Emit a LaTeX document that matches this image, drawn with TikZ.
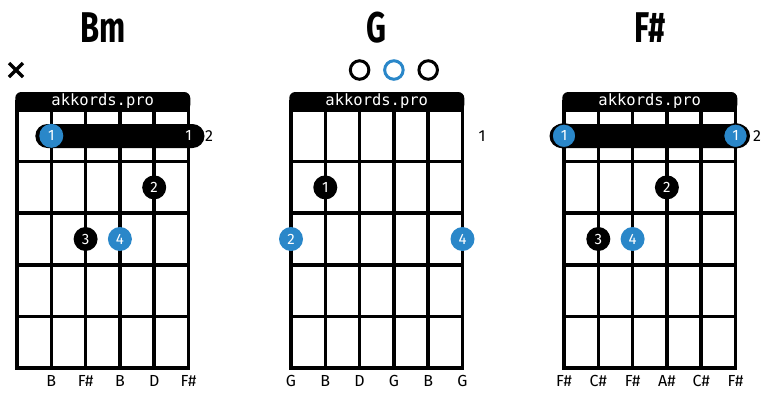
\documentclass[tikz,border=0pt]{standalone}
\usepackage{fontspec}
\setmainfont{Fira Sans}
\newfontfamily\headfont{DejaVu Sans Mono}
\definecolor{fingblue}{HTML}{2A87C9}
\tikzset{
  gridline/.style={line width=3.5pt},
  headtxt/.style={text=white,inner sep=0pt,font=\headfont\fontsize{15.5}{15.5}\selectfont},
  fing/.style={circle,fill=black,text=white,minimum size=24pt,inner sep=0pt,font=\fontsize{15}{15}\selectfont},
  fingb/.style={fing,fill=fingblue},
  notelbl/.style={inner sep=0pt,font=\fontsize{16}{16}\selectfont},
  chordname/.style={inner sep=0pt,font=\fontsize{43}{43}\selectfont\bfseries},
  openstr/.style={circle,draw=black,line width=3pt,minimum size=18.5pt,inner sep=0pt},
}
% grid with header: #1 = x of first string, #2 = name prefix
\newcommand{\chordgrid}[2]{%
  \fill[rounded corners=6pt] (#1-1.75,92) rectangle (#1+173.25,111);
  \fill (#1-1.75,100) rectangle (#1+173.25,111);
  \node[headtxt] (#2head) at (#1+85.75,101) {akkords.pro};
  \draw[gridline] (#1,110) rectangle (#1+171.5,368);
  \foreach \i in {1,...,4} {
    \draw[gridline] (#1+\i*34.3,110) -- ++(0,258);
    \draw[gridline] (#1,110+\i*51.6) -- ++(171.5,0);
  }
}
\begin{document}
\begin{tikzpicture}[x=1pt,y=-1pt]
\useasboundingbox (0,0) rectangle (771,400);
% Bm
\node[chordname] (bmname) at (102.75,28) {\scalebox{0.72}[1]{Bm}};
\draw[line width=3.5pt] (9,63) -- (23,77) (9,77) -- (23,63);
\chordgrid{17}{bm}
\fill[rounded corners=12pt] (35.3,124) rectangle (204.5,148);
\node[fingb] (bmf1) at (51.3,135.8) {1};
\node[text=white,inner sep=0pt,font=\fontsize{15}{15}\selectfont] (bmf1b) at (188.5,135.8) {1};
\node[notelbl] (bmfret) at (209,135.8) {2};
\node[fing] (bmf2) at (154.2,187.4) {2};
\node[fing] (bmf3) at (85.6,239) {3};
\node[fingb] (bmf4) at (119.9,239) {4};
\foreach \n [count=\k] in {B,F\#,B,D,F\#}
  \node[notelbl] (bmn\k) at (17+\k*34.3,381) {\n};
% G
\node[chordname] (gname) at (376.75,28) {\scalebox{0.72}[1]{G}};
\node[openstr] (go3) at (359.6,70) {};
\node[openstr,draw=fingblue] (go4) at (393.9,70) {};
\node[openstr] (go5) at (428.2,70) {};
\chordgrid{291}{g}
\node[notelbl] (gfret) at (482,135.8) {1};
\node[fing] (gf1) at (325.3,187.4) {1};
\node[fingb] (gf2) at (291,239) {2};
\node[fingb] (gf4) at (462.5,239) {4};
\foreach \n [count=\k from 0] in {G,B,D,G,B,G}
  \node[notelbl] (gn\k) at (291+\k*34.3,381) {\n};
% F#
\node[chordname] (fsname) at (649.75,28) {\scalebox{0.72}[1]{F\#}};
\chordgrid{564}{fs}
\fill[rounded corners=12pt] (549.5,124) rectangle (750,148);
\node[fingb,draw=black,line width=1.5pt] (fsf1) at (564,135.8) {1};
\node[fingb,draw=black,line width=1.5pt] (fsf1b) at (735.5,135.8) {1};
\node[notelbl] (fsfret) at (757,135.8) {2};
\node[fing] (fsf2) at (666.9,187.4) {2};
\node[fing] (fsf3) at (598.3,239) {3};
\node[fingb] (fsf4) at (632.6,239) {4};
\foreach \n [count=\k from 0] in {F\#,C\#,F\#,A\#,C\#,F\#}
  \node[notelbl] (fsn\k) at (564+\k*34.3,381) {\n};
\end{tikzpicture}
\end{document}
